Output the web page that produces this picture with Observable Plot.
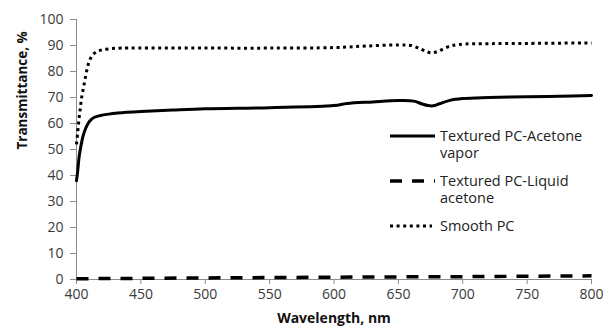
<!DOCTYPE html>
<html>
<head>
<meta charset="utf-8">
<script src="https://cdn.jsdelivr.net/npm/d3@7"></script>
<script src="https://cdn.jsdelivr.net/npm/@observablehq/plot@0.6"></script>
<style>
  html, body { margin: 0; padding: 0; background: #fff; }
  #chart { position: relative; width: 605px; height: 326px; }
  svg { font-family: "Open Sans", sans-serif; }
</style>
</head>
<body>
<div id="chart"></div>
<script>
// Transmittance spectra of polycarbonate samples
const vaporNm = [400, 401, 402, 403.5, 405, 407, 409, 411, 414, 418, 425, 432, 450, 475, 500, 550, 600, 610, 630, 650, 662, 668, 673, 677, 682, 690, 700, 720, 750, 775, 800];
const vaporT  = [38, 42, 47, 51.5, 55, 58, 60, 61.3, 62.4, 63, 63.6, 64, 64.6, 65.2, 65.7, 66.1, 66.9, 67.7, 68.3, 68.8, 68.6, 67.6, 66.9, 66.8, 67.6, 68.9, 69.6, 70, 70.3, 70.5, 70.8];

const liquidNm = [400, 500, 600, 700, 800];
const liquidT  = [0.3, 0.6, 0.9, 1.1, 1.4];

const smoothNm = [400, 401, 402, 403, 404, 405.5, 407, 408.5, 410, 412, 415, 419, 425, 435, 500, 550, 600, 625, 650, 660, 667, 672, 676, 681, 688, 697, 720, 750, 800];
const smoothT  = [52, 57, 62, 66, 70, 74, 78, 81.5, 84, 86, 87.4, 88.2, 88.7, 89, 89, 89, 89.2, 89.8, 90.2, 90, 88.7, 87.6, 87.2, 87.8, 89.4, 90.4, 90.7, 90.8, 91];

const xTicks = [400, 450, 500, 550, 600, 650, 700, 750, 800];
const yTicks = [0, 10, 20, 30, 40, 50, 60, 70, 80, 90, 100];

const legendLines = [["Textured PC-Acetone", "vapor"], ["Textured PC-Liquid", "acetone"], ["Smooth PC"]];

const toRows = (nm, t) => nm.map((w, i) => ({w, t: t[i]}));
const vapor = toRows(vaporNm, vaporT);
const liquid = toRows(liquidNm, liquidT);
const smooth = toRows(smoothNm, smoothT);

const styles = [
  {strokeWidth: 3, strokeDasharray: null},
  {strokeWidth: 3.5, strokeDasharray: "12,10"},
  {strokeWidth: 3, strokeDasharray: "3,3.6"}
];

const axisColor = "#8c8c8c";
const textColor = "#3a3a3a";

const plot = Plot.plot({
  width: 605,
  height: 326,
  marginLeft: 76,
  marginRight: 14,
  marginTop: 19,
  marginBottom: 47,
  style: {fontSize: "14px", fontFamily: "Open Sans, sans-serif", background: "#fff"},
  x: {domain: [400, 800]},
  y: {domain: [0, 100]},
  marks: [
    Plot.ruleX([400], {stroke: axisColor, strokeWidth: 1}),
    Plot.ruleY([0], {stroke: axisColor, strokeWidth: 1}),
    Plot.axisY({ticks: yTicks, tickSize: 6, tickPadding: 7, stroke: axisColor, color: textColor, label: null, fontSize: 14}),
    Plot.axisX({ticks: xTicks, tickSize: 5, tickPadding: 5, stroke: axisColor, color: textColor, label: null, fontSize: 14}),
    Plot.line(liquid, {x: "w", y: "t", stroke: "#000", strokeWidth: styles[1].strokeWidth, strokeDasharray: styles[1].strokeDasharray, strokeLinecap: "butt"}),
    Plot.line(smooth, {x: "w", y: "t", stroke: "#000", strokeWidth: styles[2].strokeWidth, strokeDasharray: styles[2].strokeDasharray, strokeLinecap: "butt", curve: "catmull-rom"}),
    Plot.line(vapor, {x: "w", y: "t", stroke: "#000", strokeWidth: styles[0].strokeWidth, strokeLinecap: "round", curve: "catmull-rom"}),
    Plot.text(["Wavelength, nm"], {frameAnchor: "bottom", dy: 43, fontWeight: "bold", fontSize: 14, fill: "#111"}),
    Plot.text(["Transmittance, %"], {frameAnchor: "left", dx: -54, rotate: -90, fontWeight: "bold", fontSize: 13.5, fill: "#111"})
  ]
});

document.getElementById("chart").appendChild(plot);

// Legend drawn inside the plot area
const svg = d3.select(plot);
const lg = svg.append("g").attr("transform", "translate(390,136)");
const rowY = [0, 45, 90];
legendLines.forEach((lines, i) => {
  const s = styles[i];
  lg.append("line")
    .attr("x1", 0).attr("x2", i === 2 ? 42 : 45)
    .attr("y1", rowY[i]).attr("y2", rowY[i])
    .attr("stroke", "#000")
    .attr("stroke-width", s.strokeWidth)
    .attr("stroke-dasharray", s.strokeDasharray)
    .attr("stroke-linecap", "butt");
  const t = lg.append("text")
    .attr("x", 50).attr("y", rowY[i])
    .attr("text-anchor", "start")
    .attr("fill", "#222")
    .attr("font-size", 14.5)
    .attr("font-family", "Open Sans, sans-serif");
  lines.forEach((ln, j) => {
    t.append("tspan").attr("x", 50).attr("dy", j === 0 ? "0.35em" : "1.2em").text(ln);
  });
});
</script>
</body>
</html>
